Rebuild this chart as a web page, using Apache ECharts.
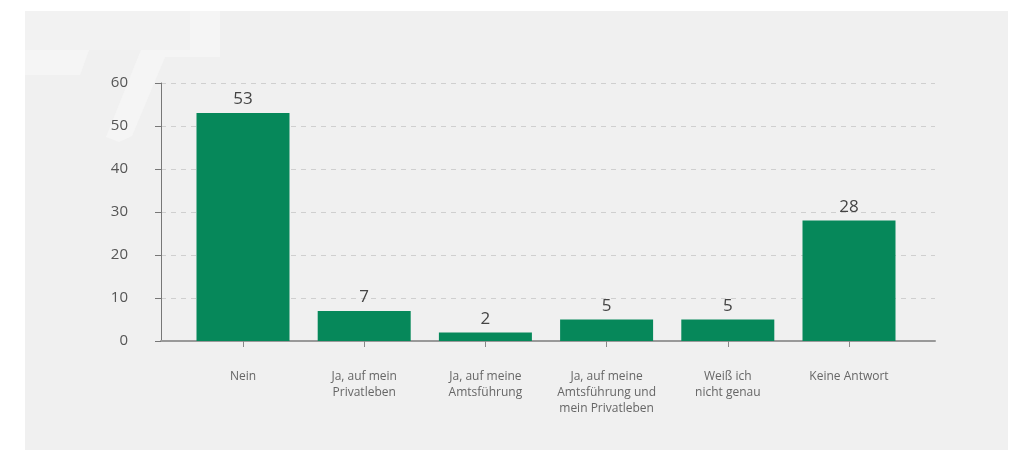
<!DOCTYPE html>
<html>
<head>
<meta charset="utf-8">
<script src="https://cdn.jsdelivr.net/npm/echarts@6/dist/echarts.min.js"></script>
<style>
  html, body { margin: 0; padding: 0; background: #ffffff; }
  #chart { width: 1012px; height: 450px; }
</style>
</head>
<body>
<div id="chart"></div>
<script>
// Antworten und Anzahl der Nennungen
const categories = [
  'Nein',
  'Ja, auf mein\nPrivatleben',
  'Ja, auf meine\nAmtsführung',
  'Ja, auf meine\nAmtsführung und\nmein Privatleben',
  'Weiß ich\nnicht genau',
  'Keine Antwort'
];
const values = [53, 7, 2, 5, 5, 28];
const yTicks = [0, 10, 20, 30, 40, 50, 60];

const BG = '#f0f0f0';
const MARK = '#f5f5f5';
const GREEN = '#06885a';
const FONT = '"Open Sans", "Noto Sans", sans-serif';

const chart = echarts.init(document.getElementById('chart'), null, { renderer: 'canvas' });

chart.setOption({
  backgroundColor: '#ffffff',
  animation: false,
  graphic: [
    // panel background
    { type: 'rect', z: -10, shape: { x: 25, y: 11, width: 983, height: 439 }, style: { fill: BG } },
    // faint logo shapes in the corner
    { type: 'rect', z: -9, shape: { x: 25, y: 11, width: 165, height: 39 }, style: { fill: '#f2f2f2' } },
    { type: 'rect', z: -9, shape: { x: 190, y: 11, width: 30, height: 46 }, style: { fill: MARK } },
    { type: 'rect', z: -9, shape: { x: 141, y: 50, width: 79, height: 7 }, style: { fill: MARK } },
    { type: 'polygon', z: -9, shape: { points: [[25, 50], [89, 50], [80, 75], [25, 75]] }, style: { fill: MARK } },
    { type: 'polygon', z: -9, shape: { points: [[141, 50], [168, 50], [132, 136], [119, 142], [106, 137]] }, style: { fill: MARK } }
  ],
  grid: [
    // bars
    { left: 182.4, right: 102.4, top: 83, bottom: 109 },
    // axis frame and gridlines
    { left: 161, right: 77, top: 83, bottom: 109 }
  ],
  xAxis: [
    {
      gridIndex: 0,
      type: 'category',
      data: categories,
      axisLine: { show: false },
      axisTick: { show: true, alignWithLabel: true, length: 6, lineStyle: { color: '#888888', width: 1 } },
      axisLabel: {
        margin: 28,
        fontFamily: FONT,
        fontSize: 12,
        lineHeight: 16,
        color: '#666666',
        interval: 0
      }
    },
    {
      gridIndex: 1,
      type: 'value',
      min: 0,
      max: 1,
      axisLine: { show: true, lineStyle: { color: '#999999', width: 2 } },
      axisTick: { show: false },
      axisLabel: { show: false },
      splitLine: { show: false }
    }
  ],
  yAxis: [
    {
      gridIndex: 0,
      type: 'value',
      min: yTicks[0],
      max: yTicks[yTicks.length - 1],
      interval: 10,
      show: false,
      splitLine: { show: false }
    },
    {
      gridIndex: 1,
      type: 'value',
      min: yTicks[0],
      max: yTicks[yTicks.length - 1],
      interval: 10,
      axisLine: { show: true, lineStyle: { color: '#777777', width: 1 } },
      axisTick: { show: true, length: 6, lineStyle: { color: '#777777', width: 1 } },
      axisLabel: {
        margin: 33,
        fontFamily: FONT,
        fontSize: 15,
        color: '#555555',
        formatter: (v) => (yTicks.includes(v) ? String(v) : '')
      },
      splitLine: { show: true, lineStyle: { color: '#cfcfcf', type: [5, 5], width: 1 } }
    }
  ],
  series: [
    {
      type: 'bar',
      xAxisIndex: 0,
      yAxisIndex: 0,
      data: values,
      barWidth: 93,
      itemStyle: { color: GREEN },
      label: {
        show: true,
        position: 'top',
        distance: 5,
        fontFamily: FONT,
        fontSize: 17,
        color: '#444444'
      }
    }
  ]
});
</script>
</body>
</html>
